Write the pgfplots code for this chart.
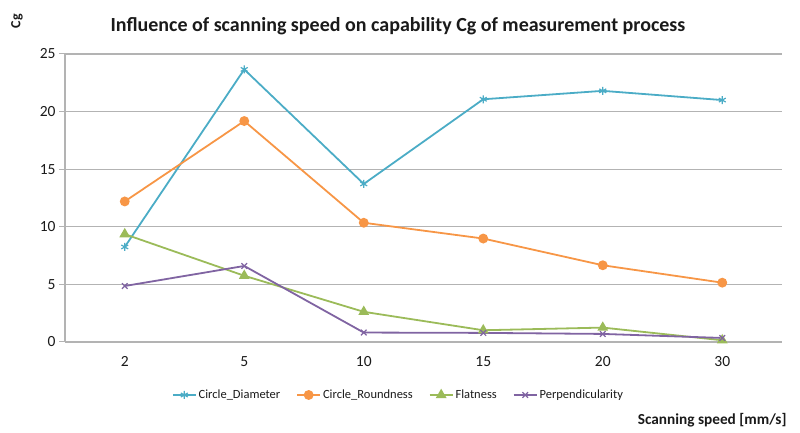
\documentclass[border=0pt]{standalone}
\usepackage{fontspec}
\setmainfont{Carlito}
\usepackage{pgfplots}
\pgfplotsset{compat=1.18}
\definecolor{cdiam}{HTML}{4BACC6}
\definecolor{cround}{HTML}{F79646}
\definecolor{cflat}{HTML}{9BBB59}
\definecolor{cperp}{HTML}{8064A2}
\definecolor{gridc}{HTML}{B3B3B3}
\definecolor{txt}{HTML}{1A1A1A}
\begin{document}
\begin{tikzpicture}[x=1bp,y=1bp]
\useasboundingbox (0,0) rectangle (800,433);
\node[font=\fontsize{20bp}{22bp}\selectfont\bfseries, text=txt] at (398,407) {Influence of scanning speed on capability Cg of measurement process};
\node[font=\fontsize{14bp}{16bp}\selectfont\bfseries, text=txt, rotate=90] at (17,412) {Cg};
\node[font=\fontsize{15.3bp}{17bp}\selectfont\bfseries, text=txt, anchor=east] at (790,13) {Scanning speed [mm/s]};
\begin{axis}[
  at={(65bp,91bp)}, anchor=south west,
  scale only axis, width=717bp, height=288bp,
  xmin=-0.5, xmax=5.5, ymin=0, ymax=25,
  axis lines*=left,
  axis line style={gridc, line width=1.2bp},
  xtick={0,1,2,3,4,5},
  xticklabels={2,5,10,15,20,30},
  major x tick style={draw=none},
  extra x ticks={-0.5,0.5,1.5,2.5,3.5,4.5,5.5},
  extra x tick labels={},
  extra x tick style={grid=none, major tick length=5bp, tick style={gridc, line width=1bp}},
  ytick={0,5,10,15,20,25},
  ymajorgrids,
  grid style={gridc, line width=1.2bp},
  tick align=outside,
  major tick length=6bp,
  ytick style={gridc, line width=1bp},
  tick label style={font=\fontsize{15.5bp}{17bp}\selectfont, text=txt},
  /pgf/number format/assume math mode=true,
  xticklabel style={yshift=-5bp},
  legend columns=4,
  legend style={draw=none, fill=none, at={(0.465,-0.184)}, anchor=center,
    font=\fontsize{12.5bp}{14bp}\selectfont, text=txt,
    /tikz/every even column/.append style={column sep=14bp}},
  legend image code/.code={\draw[mark repeat=2,mark phase=2] plot coordinates {(0bp,0bp)(11.5bp,0bp)(23bp,0bp)};},
  every axis plot/.append style={line width=1.8bp},
]
\addplot[cdiam, mark=asterisk, mark size=4bp, mark options={line width=1.2bp}] coordinates {(0,8.25)(1,23.66)(2,13.72)(3,21.07)(4,21.8)(5,21.0)};
\addlegendentry{Circle\_Diameter}
\addplot[cround, mark=*, mark size=4bp] coordinates {(0,12.2)(1,19.18)(2,10.35)(3,8.98)(4,6.66)(5,5.15)};
\addlegendentry{Circle\_Roundness}
\addplot[cflat, mark=triangle*, mark size=4.5bp] coordinates {(0,9.36)(1,5.75)(2,2.62)(3,1.02)(4,1.25)(5,0.15)};
\addlegendentry{Flatness}
\addplot[cperp, mark=x, mark size=4bp, mark options={line width=1.2bp}] coordinates {(0,4.86)(1,6.6)(2,0.82)(3,0.79)(4,0.7)(5,0.35)};
\addlegendentry{Perpendicularity}
\end{axis}
\end{tikzpicture}
\end{document}
